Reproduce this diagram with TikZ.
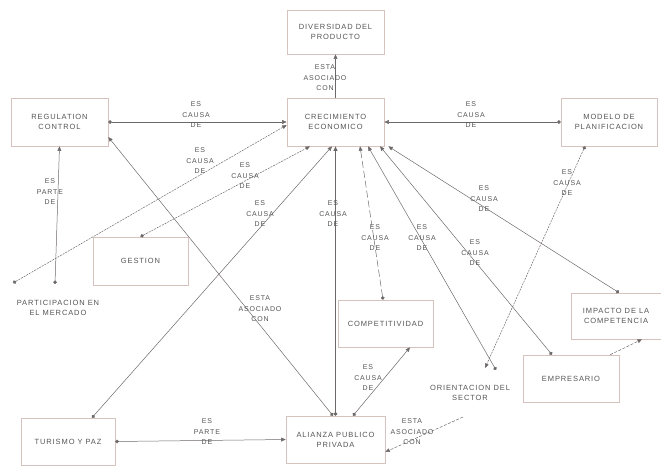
\documentclass[tikz,border=0pt]{standalone}
\usepackage{fontspec}
\newfontfamily\diafont{Liberation Sans}[LetterSpace=12]
\usetikzlibrary{arrows.meta}
\definecolor{boxc}{RGB}{215,195,190}
\definecolor{linec}{RGB}{110,105,105}
\definecolor{txtc}{RGB}{85,85,85}
\tikzset{
  box/.style={draw=boxc, line width=0.6pt, align=center, text=txtc, font=\diafont\fontsize{7.5}{10}\selectfont, inner sep=0pt},
  txt/.style={align=center, text=txtc, font=\diafont\fontsize{7.5}{10.5}\selectfont, inner sep=0pt},
  lab/.style={align=center, text=txtc, font=\diafont\fontsize{7}{10.5}\selectfont, inner sep=0pt},
  con/.style={draw=linec, line width=0.5pt},
  dar/.style={con, {Circle[length=3.6pt]}-{Triangle[length=4.5pt,width=3.8pt]}},
  arr/.style={con, -{Triangle[length=4.5pt,width=3.8pt]}},
  dotl/.style={dash pattern=on 2pt off 1pt},
  dashl/.style={dash pattern=on 3pt off 1.5pt},
  longd/.style={dash pattern=on 7pt off 3pt},
}
\begin{document}
\begin{tikzpicture}[x=1pt,y=-1pt]
\useasboundingbox (0,0) rectangle (661,467);
% boxes
\node[box, minimum width=97pt, minimum height=44pt] (div) at (335.5,32) {DIVERSIDAD DEL\\PRODUCTO};
\node[box, minimum width=97pt, minimum height=48pt] (crec) at (335.5,122) {CRECIMIENTO\\ECONOMICO};
\node[box, minimum width=97pt, minimum height=48pt] (reg) at (59.5,122) {REGULATION\\CONTROL};
\node[box, minimum width=96pt, minimum height=48pt] (mod) at (609,122) {MODELO DE\\PLANIFICACION};
\node[box, minimum width=95pt, minimum height=48pt] (ges) at (140.5,261) {GESTION};
\node[box, minimum width=95pt, minimum height=47pt] (comp) at (385.5,323.5) {COMPETITIVIDAD};
\node[box, minimum width=90pt, minimum height=46pt] (imp) at (616,316) {IMPACTO DE LA\\COMPETENCIA};
\node[box, minimum width=96pt, minimum height=47pt] (emp) at (571,378.5) {EMPRESARIO};
\node[box, minimum width=94pt, minimum height=47pt] (tur) at (68,441.5) {TURISMO Y PAZ};
\node[box, minimum width=99pt, minimum height=47pt] (ali) at (335.5,439.5) {ALIANZA PUBLICO\\PRIVADA};
\node[txt] (par) at (58,308) {PARTICIPACION EN\\EL MERCADO};
\node[txt] (ori) at (470,393) {ORIENTACION DEL\\SECTOR};
% free ends
\coordinate (p1) at (13,283);
\coordinate (p2) at (55,284);
\coordinate (o1) at (496,370);
\coordinate (o2) at (485,368);
\coordinate (o3) at (463,417);
% connectors
\draw[dar] (reg.east) -- (crec.west);
\draw[dar] (mod.west) -- (crec.east);
\draw[arr] (crec.north) -- (div.south);
\draw[dar, dotl] (p1) -- ([yshift=-3pt]crec.west);
\draw[dar] (p2) -- (reg.south);
\draw[dar, dotl] (ges.north) -- ([xshift=-25.5pt]crec.south);
\draw[dar] ([xshift=24pt]tur.north) -- ([xshift=-3.5pt]crec.south);
\draw[dar] ([xshift=-2.5pt]ali.north) -- ([yshift=-15pt]reg.east);
\draw[dar, line width=0.9pt] (ali.north) -- (crec.south);
\draw[dar] ([xshift=17.5pt]ali.north) -- ([xshift=24.5pt]comp.south);
\draw[dar, longd] ([xshift=-2.5pt]comp.north) -- ([xshift=24.5pt]crec.south);
\draw[dar] (o1) -- ([xshift=32.5pt]crec.south);
\draw[dar] ([xshift=-19pt]emp.north) -- ([xshift=44.5pt]crec.south);
\draw[dar] ([xshift=3pt]imp.north) -- ([xshift=4pt]crec.south east);
\draw[dar, dotl] ([xshift=-24pt]mod.south) -- (o2);
\draw[arr, dashl] ([xshift=-9pt]emp.north east) -- ([xshift=26pt]imp.south);
\draw[arr, dashl] (o3) -- ([yshift=-12.5pt]ali.east);
\draw[dar] (tur.east) -- (ali.west);
% labels
\node[lab] (l1) at (196,115) {ES\\CAUSA\\DE};
\node[lab] (l2) at (471,115) {ES\\CAUSA\\DE};
\node[lab] (l3) at (325,78) {ESTA\\ASOCIADO\\CON};
\node[lab] (l4) at (200,161) {ES\\CAUSA\\DE};
\node[lab] (l5) at (50,192) {ES\\PARTE\\DE};
\node[lab] (l6) at (245,176) {ES\\CAUSA\\DE};
\node[lab] (l7) at (260,214) {ES\\CAUSA\\DE};
\node[lab] (l8) at (260,309) {ESTA\\ASOCIADO\\CON};
\node[lab] (l9) at (333,214) {ES\\CAUSA\\DE};
\node[lab] (l10) at (368,378) {ES\\CAUSA\\DE};
\node[lab] (l11) at (375,238) {ES\\CAUSA\\DE};
\node[lab] (l12) at (422,238) {ES\\CAUSA\\DE};
\node[lab] (l13) at (475,253) {ES\\CAUSA\\DE};
\node[lab] (l14) at (484,199) {ES\\CAUSA\\DE};
\node[lab] (l15) at (567,183) {ES\\CAUSA\\DE};
\node[lab] (l17) at (412,432) {ESTA\\ASOCIADO\\CON};
\node[lab] (l18) at (207,432) {ES\\PARTE\\DE};
\end{tikzpicture}
\end{document}
